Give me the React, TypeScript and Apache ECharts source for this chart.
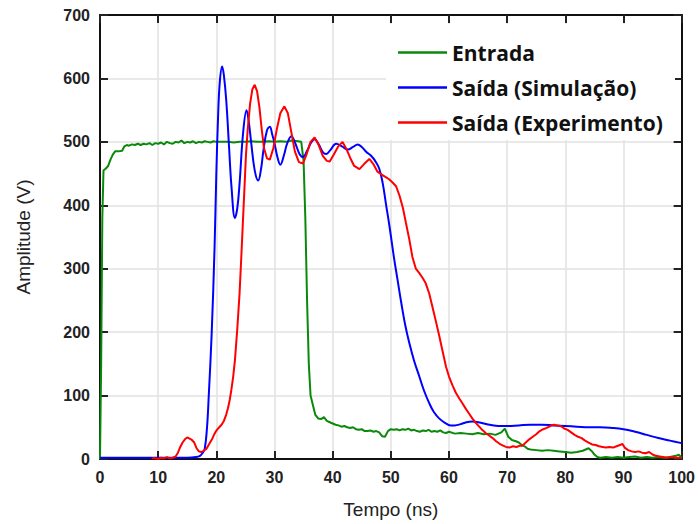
import React, { useEffect, useRef } from "react";
import * as echarts from "echarts";

const seriesNames = ["Entrada", "Saída (Simulação)", "Saída (Experimento)"];
const seriesColors = ["#0a8a0a", "#0000ff", "#ff0000"];

const xTicks = [0, 10, 20, 30, 40, 50, 60, 70, 80, 90, 100];
const yTicks = [0, 100, 200, 300, 400, 500, 600, 700];

const entradaData: [number, number][] = [
  [0, 0], [0.2, 150], [0.4, 380], [0.6, 455], [1.0, 458], [1.4, 462], [1.8, 472], [2.2, 480], [2.6, 485], [3.2, 485],
  [3.8, 486], [4.2, 493], [4.6, 495], [5.0, 494], [5.5, 496], [6.0, 495], [6.5, 497], [7.0, 495], [7.5, 497], [8.0, 496],
  [8.5, 498], [9.0, 495], [9.5, 498], [10.0, 497], [10.5, 499], [11, 496], [11.5, 500], [12, 498], [12.5, 497], [13, 500],
  [13.5, 499], [14, 502], [14.5, 498], [15, 500], [15.5, 499], [16, 501], [16.5, 498], [17, 500], [17.5, 499], [18, 501],
  [18.5, 500], [19, 499], [19.5, 501], [20, 500], [21, 500], [22, 500], [23, 499], [24, 500], [25, 500], [26, 501],
  [27, 500], [28, 500], [29, 501], [30, 500], [31, 501], [32, 500], [33, 502], [34, 501], [34.6, 500], [35.0, 470],
  [35.3, 380], [35.6, 250], [35.9, 150], [36.2, 100], [36.6, 85], [37.0, 70], [37.5, 64], [38.0, 63], [38.5, 66], [39.0, 60],
  [39.5, 58], [40.0, 56], [40.5, 54], [41, 53], [41.5, 51], [42, 52], [42.5, 50], [43, 49], [43.5, 50], [44, 47],
  [44.5, 46], [45, 47], [45.5, 44], [46, 44], [46.5, 45], [47, 43], [47.5, 44], [48, 42], [48.5, 36], [49, 35],
  [49.5, 44], [50, 47], [50.5, 46], [51, 47], [51.5, 45], [52, 47], [52.5, 46], [53, 48], [53.5, 45], [54, 46],
  [54.5, 44], [55, 43], [55.5, 45], [56, 44], [56.5, 46], [57, 43], [57.5, 44], [58, 43], [58.5, 45], [59, 42],
  [59.5, 41], [60, 43], [61, 40], [62, 41], [63, 40], [64, 39], [65, 41], [66, 39], [67, 40], [68, 38],
  [69, 42], [69.6, 48], [70.2, 35], [70.8, 30], [71.5, 28], [72, 26], [72.5, 22], [73, 20], [73.5, 16], [74, 15],
  [75, 14], [76, 13], [77, 14], [78, 13], [79, 12], [80, 11], [81, 10], [82, 11], [83, 13], [84, 17],
  [84.6, 12], [85, 7], [85.5, 3], [86, 2], [87, 3], [88, 2], [89, 3], [90, 2], [91, 3], [92, 4],
  [93, 2], [94, 3], [95, 2], [96, 3], [97, 2], [98, 3], [99, 5], [99.5, 7], [100, 2],
];

const simulacaoData: [number, number][] = [
  [0, 2], [10, 2], [15, 2], [16.5, 3], [17.2, 5], [17.6, 9], [18.0, 16], [18.4, 50], [18.7, 100], [19.2, 198],
  [19.7, 335], [20.0, 450], [20.3, 540], [20.6, 595], [21.0, 619], [21.3, 605], [21.7, 566], [22.2, 490], [22.6, 430],
  [23.2, 380], [23.6, 395], [24.0, 435], [24.6, 514], [25.2, 550], [25.6, 530], [26.0, 498], [26.6, 455], [27.2, 439],
  [27.7, 458], [28.1, 487], [28.7, 518], [29.2, 524], [29.6, 512], [30.0, 498], [30.5, 476], [31.0, 464], [31.6, 478],
  [32.2, 498], [32.9, 509], [33.6, 497], [34.3, 481], [34.9, 476], [35.6, 486], [36.3, 499], [36.9, 504], [37.6, 496],
  [38.3, 484], [38.9, 481], [39.6, 487], [40.6, 497], [41.6, 493], [42.6, 488], [43.5, 492], [44.3, 496], [45.0, 492],
  [45.8, 484], [46.6, 478], [47.3, 470], [48.0, 458], [48.6, 435], [49.2, 400], [49.8, 365], [50.5, 320], [51.2, 280],
  [51.8, 246], [52.5, 210], [53.2, 182], [54.0, 155], [54.9, 130], [55.7, 108], [56.6, 88], [57.4, 74], [58.3, 64],
  [59.3, 57], [60.3, 53], [61.0, 53], [62.0, 55], [63.0, 58], [64.0, 59], [65.0, 58], [66.0, 56], [67.0, 54],
  [68.5, 52], [70, 52], [72, 53], [74, 54], [76, 54], [78, 53], [80, 52], [82, 51], [84, 50], [86, 50],
  [88, 49], [90, 47], [92, 43], [94, 38], [96, 33], [98, 29], [100, 25],
];

const experimentoData: [number, number][] = [
  [8.9, 1], [9.5, 1], [10, 0], [10.5, 2], [11, 1], [11.5, 3], [12, 1], [12.5, 2], [13, 4], [13.4, 10],
  [13.8, 19], [14.2, 26], [14.6, 31], [15.0, 34], [15.4, 32], [15.8, 30], [16.2, 26], [16.6, 17], [17.0, 12], [17.4, 11],
  [17.8, 13], [18.3, 16], [18.8, 24], [19.3, 32], [19.7, 40], [20.1, 46], [20.5, 50], [20.9, 54], [21.3, 60], [21.7, 70],
  [22.0, 80], [22.3, 93], [22.6, 110], [22.9, 130], [23.2, 156], [23.6, 205], [24.0, 262], [24.3, 320], [24.7, 400], [25.1, 480],
  [25.4, 520], [25.8, 560], [26.2, 583], [26.6, 590], [27.0, 580], [27.4, 555], [27.8, 520], [28.2, 490], [28.7, 474], [29.2, 472],
  [29.8, 490], [30.4, 520], [31.0, 545], [31.7, 556], [32.3, 545], [32.9, 515], [33.5, 485], [34.2, 468], [34.9, 466], [35.5, 480],
  [36.2, 500], [36.9, 507], [37.6, 495], [38.3, 478], [39.0, 470], [39.5, 469], [40.2, 480], [40.9, 492], [41.7, 500], [42.4, 488],
  [43.0, 475], [43.7, 462], [44.6, 457], [45.4, 465], [46.3, 473], [47.0, 465], [47.7, 453], [48.5, 448], [49.2, 444], [49.7, 441],
  [50.3, 436], [50.9, 430], [51.5, 415], [52.1, 395], [52.6, 372], [53.2, 345], [53.7, 319], [54.3, 300], [54.9, 293], [55.5, 285],
  [56.0, 277], [56.6, 261], [57.2, 238], [57.8, 215], [58.3, 195], [58.9, 170], [59.5, 145], [60.0, 130], [60.6, 116], [61.2, 104],
  [61.8, 95], [62.3, 88], [62.9, 79], [63.5, 71], [64.0, 64], [64.6, 57], [65.2, 51], [65.7, 46], [66.3, 41], [66.9, 37],
  [67.5, 33], [68.1, 28], [68.7, 24], [69.3, 21], [69.8, 19], [70.4, 18], [71.0, 20], [71.6, 19], [72.2, 21], [72.6, 21],
  [73.2, 26], [73.8, 31], [74.4, 35], [75.0, 39], [75.6, 44], [76.2, 47], [76.8, 49], [77.4, 52], [78.0, 54], [78.6, 53],
  [79.2, 52], [79.8, 48], [80.4, 46], [81.0, 42], [81.6, 38], [82.2, 35], [82.8, 33], [83.4, 29], [84.0, 26], [84.6, 23],
  [85.2, 22], [85.8, 20], [86.4, 19], [87.0, 18], [87.6, 19], [88.2, 18], [88.8, 20], [89.4, 22], [89.8, 24], [90.2, 18],
  [90.8, 14], [91.4, 12], [92.0, 11], [92.6, 12], [93.2, 10], [93.8, 9], [94.4, 11], [95.0, 7], [95.6, 5], [96.2, 4],
  [96.8, 3], [97.4, 2], [98.2, 3], [99, 2], [100, 2],
];

const labelFont = () => ({
  color: "#222",
  fontWeight: "bold" as const,
  fontSize: 16,
  fontFamily: "Liberation Sans, Arial, sans-serif",
});

const nameFont = () => ({
  color: "#222",
  fontSize: 19,
  fontFamily: "Liberation Sans, Arial, sans-serif",
});

const mkLine = () => ({ show: true, onZero: false, lineStyle: { color: "#111", width: 2 } });
const mkTick = () => ({ show: true, inside: true, length: 8, lineStyle: { color: "#222", width: 2 } });
const mkSplit = (show: boolean) => ({ show, lineStyle: { color: "#e2e2e2", width: 1.5 } });

export default function App() {
  const ref = useRef<HTMLDivElement>(null);
  useEffect(() => {
    if (!ref.current) return;
    const chart = echarts.init(ref.current, null, { renderer: "svg" });
    chart.setOption({
      animation: false,
      backgroundColor: "#fff",
      grid: { left: 100, right: 15, top: 15, bottom: 65, show: false },
      xAxis: [
        {
          type: "value",
          min: xTicks[0],
          max: xTicks[xTicks.length - 1],
          interval: 10,
          position: "bottom",
          axisLine: mkLine(),
          axisTick: mkTick(),
          axisLabel: { ...labelFont(), margin: 10 },
          splitLine: mkSplit(true),
          name: "Tempo (ns)",
          nameLocation: "middle",
          nameGap: 41,
          nameTextStyle: nameFont(),
        },
        {
          type: "value",
          min: xTicks[0],
          max: xTicks[xTicks.length - 1],
          interval: 10,
          position: "top",
          axisLine: mkLine(),
          axisTick: mkTick(),
          axisLabel: { show: false },
          splitLine: mkSplit(false),
        },
      ],
      yAxis: [
        {
          type: "value",
          min: yTicks[0],
          max: yTicks[yTicks.length - 1],
          interval: 100,
          position: "left",
          axisLine: mkLine(),
          axisTick: mkTick(),
          axisLabel: { ...labelFont(), margin: 10 },
          splitLine: mkSplit(true),
          name: "Amplitude (V)",
          nameLocation: "middle",
          nameGap: 67,
          nameTextStyle: nameFont(),
        },
        {
          type: "value",
          min: yTicks[0],
          max: yTicks[yTicks.length - 1],
          interval: 100,
          position: "right",
          axisLine: mkLine(),
          axisTick: mkTick(),
          axisLabel: { show: false },
          splitLine: mkSplit(false),
        },
      ],
      graphic: [
        {
          type: "rect",
          z: 1,
          silent: true,
          shape: { x: 386, y: 24, width: 289, height: 116 },
          style: { fill: "#fff" },
        },
      ],
      legend: {
        data: seriesNames,
        orient: "vertical",
        left: 398,
        top: 42,
        padding: 0,
        icon: "rect",
        itemWidth: 49,
        itemHeight: 2.5,
        itemGap: 14,
        textStyle: {
          fontFamily: "Open Sans, sans-serif",
          fontWeight: "bold",
          fontSize: 21,
          color: "#111",
          lineHeight: 20,
        },
      },
      series: [
        {
          name: seriesNames[0],
          type: "line",
          data: entradaData,
          symbol: "none",
          showSymbol: false,
          lineStyle: { color: seriesColors[0], width: 2 },
          itemStyle: { color: seriesColors[0] },
          z: 3,
        },
        {
          name: seriesNames[1],
          type: "line",
          data: simulacaoData,
          symbol: "none",
          showSymbol: false,
          smooth: 0.4,
          lineStyle: { color: seriesColors[1], width: 2 },
          itemStyle: { color: seriesColors[1] },
          z: 4,
        },
        {
          name: seriesNames[2],
          type: "line",
          data: experimentoData,
          symbol: "none",
          showSymbol: false,
          lineStyle: { color: seriesColors[2], width: 2 },
          itemStyle: { color: seriesColors[2] },
          z: 5,
        },
      ],
    });
    return () => chart.dispose();
  }, []);
  return <div ref={ref} style={{ position: "absolute", left: 0, top: 0, width: 698, height: 524 }} />;
}
